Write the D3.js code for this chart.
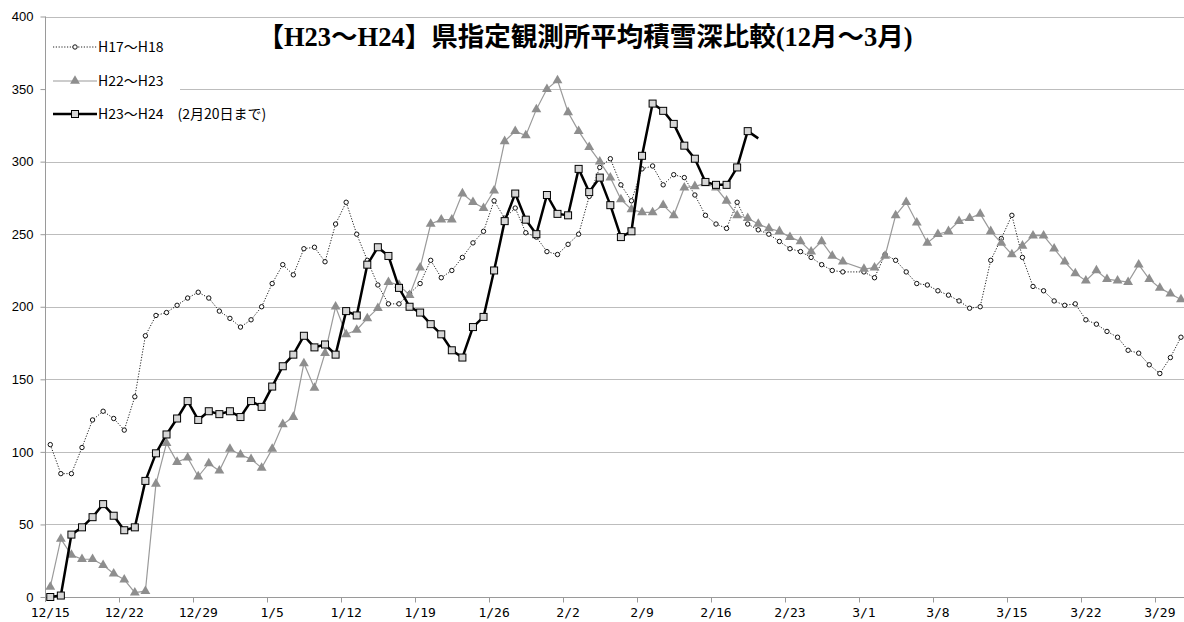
<!DOCTYPE html>
<html><head><meta charset="utf-8">
<script src="https://cdn.jsdelivr.net/npm/d3@7"></script>
<style>body{margin:0;background:#fff} svg{display:block}</style>
</head><body><svg id="c" width="1184" height="622"></svg>
<script>
// ---- data ----
const titleText = "【H23～H24】県指定観測所平均積雪深比較(12月～3月)";
const categories = d3.timeDay.range(new Date(2011, 11, 15), new Date(2012, 3, 1)).map(d3.timeFormat("%-m/%-d"));
const tickLabels = ["12/15","12/22","12/29","1/5","1/12","1/19","1/26","2/2","2/9","2/16","2/23","3/1","3/8","3/15","3/22","3/29"];
const yTicks = [0,50,100,150,200,250,300,350,400];
const seriesNames = ["H17～H18","H22～H23","H23～H24　(2月20日まで)"];
const h17h18 = [105,85,85,103,122,128,123,115,138,180, 194,196,201,206,210,206,197,192,186,191,
  200,216,229,222,240,241,231,257,272,250, 232,215,202,202,209,216,232,220,225,234,
  244,252,273,261,268,251,248,238,236,243, 250,276,296,302,284,273,295,297,284,291,
  289,277,263,257,254,272,257,253,250,245, 240,238,234,229,225,224,null,224,220,236,
  232,224,216,215,211,208,204,199,200,232, 247,263,234,214,211,204,201,202,191,188,
  183,179,170,168,160,154,165,179];
const h22h23 = [7,40,29,26,26,22,16,12,3,4, 78,106,93,96,83,92,87,102,98,95,
  89,102,119,124,161,144,168,200,181,184, 192,199,217,215,208,227,257,260,260,278,
  272,268,280,314,321,318,336,350,356,334, 321,310,300,289,274,267,265,265,270,263,
  282,283,285,282,273,263,261,257,254,252, 248,245,238,245,235,231,null,226,227,235,
  263,272,258,244,250,252,259,261,264,252, 244,236,242,249,249,240,231,223,218,225,
  219,218,217,229,219,213,209,205];
const h23h24 = [0,1,43,48,55,64,56,46,48,80, 99,112,123,135,122,128,126,128,124,135,
  131,145,159,167,180,172,174,167,197,194, 229,241,235,213,200,196,188,181,170,165,
  186,193,225,259,278,260,250,277,264,263, 295,279,289,270,248,252,304,340,335,326,
  311,302,286,284,284,296,321,316];
const h23h24MarkerCount = 67; // last value (2/20) drawn without marker

(function draw() {
  const svg = d3.select("#c");
  const plotLeft = 45, bandW = 10.567, plotBottom = 597, plotTop = 16.5;
  const x = d3.scaleBand().domain(categories).range([plotLeft, plotLeft + categories.length * bandW]).padding(0);
  const cx = c => x(c) + x.bandwidth() / 2;
  const y = d3.scaleLinear().domain([0, 400]).range([plotBottom, plotTop]);

  // gridlines
  svg.append("g").selectAll("line").data(yTicks.filter(v => v > 0)).join("line")
    .attr("x1", plotLeft).attr("x2", 1184).attr("y1", d => Math.round(y(d)) + 0.5).attr("y2", d => Math.round(y(d)) + 0.5)
    .attr("stroke", "#bdbdbd").attr("stroke-width", 1);

  // y axis
  const yAxis = svg.append("g").attr("transform", `translate(${plotLeft + 0.5},0)`)
    .call(d3.axisLeft(y).tickValues(yTicks).tickSize(5).tickPadding(7));
  yAxis.select(".domain").attr("stroke", "#9a9a9a").attr("d", `M0,${y(400)}V${plotBottom + 5}`);
  yAxis.selectAll(".tick line").attr("stroke", "#9a9a9a");
  yAxis.selectAll("text").attr("font-family", "'Liberation Sans', Arial, sans-serif").attr("font-size", 13).attr("fill", "#000");

  // x axis
  const xAxis = svg.append("g").attr("transform", `translate(0,${plotBottom + 0.5})`)
    .call(d3.axisBottom(x).tickValues(tickLabels).tickSize(0).tickPadding(10));
  xAxis.select(".domain").attr("stroke", "#9a9a9a").attr("d", `M${plotLeft},0H1184`);
  xAxis.selectAll("text").attr("font-family", "'DejaVu Sans Mono', monospace").attr("font-size", 13).attr("fill", "#000");
  const tickBoundaries = tickLabels.slice(1).map(l => Math.round(x(l)) + 0.5);
  xAxis.append("g").selectAll("line").data(tickBoundaries).join("line")
    .attr("x1", d => d).attr("x2", d => d).attr("y1", 0).attr("y2", 5)
    .attr("stroke", "#9a9a9a");

  const pts = arr => arr.map((v, i) => ({c: categories[i], v})).filter(d => d.v != null);
  const line = d3.line().x(d => cx(d.c)).y(d => y(d.v));

  // H17-H18
  const p1 = pts(h17h18);
  svg.append("path").datum(p1).attr("d", line).attr("fill", "none")
    .attr("stroke", "#222").attr("stroke-width", 1).attr("stroke-dasharray", "1.2,1.6");
  svg.append("g").selectAll("circle").data(p1).join("circle")
    .attr("cx", d => cx(d.c)).attr("cy", d => y(d.v)).attr("r", 2.2)
    .attr("fill", "#fff").attr("stroke", "#111").attr("stroke-width", 1);

  // H22-H23
  const p2 = pts(h22h23);
  const tri = d3.symbol().type(d3.symbolTriangle).size(42);
  svg.append("path").datum(p2).attr("d", line).attr("fill", "none")
    .attr("stroke", "#9a9a9a").attr("stroke-width", 1.2);
  svg.append("g").selectAll("path").data(p2).join("path")
    .attr("d", tri).attr("transform", d => `translate(${cx(d.c)},${y(d.v)})`)
    .attr("fill", "#8e8e8e");

  // H23-H24
  const p3 = pts(h23h24);
  svg.append("path").datum(p3).attr("d", line).attr("fill", "none")
    .attr("stroke", "#000").attr("stroke-width", 2.5).attr("stroke-linejoin", "round");
  svg.append("g").selectAll("rect").data(p3.slice(0, h23h24MarkerCount)).join("rect")
    .attr("x", d => cx(d.c) - 3.5).attr("y", d => y(d.v) - 3.5).attr("width", 7).attr("height", 7)
    .attr("fill", "#d6d6d6").attr("stroke", "#000").attr("stroke-width", 1);

  // legend
  const lg = svg.append("g");
  lg.append("rect").attr("x", 46).attr("y", 20).attr("width", 134).attr("height", 112).attr("fill", "#fff");
  const rows = [47, 81, 114];
  const lx1 = 53, lx2 = 97, lm = 75;
  lg.append("line").attr("x1", lx1).attr("x2", lx2).attr("y1", rows[0]).attr("y2", rows[0])
    .attr("stroke", "#222").attr("stroke-width", 1).attr("stroke-dasharray", "1.2,1.6");
  lg.append("circle").attr("cx", lm).attr("cy", rows[0]).attr("r", 2.2).attr("fill", "#fff").attr("stroke", "#111");
  lg.append("line").attr("x1", lx1).attr("x2", lx2).attr("y1", rows[1]).attr("y2", rows[1])
    .attr("stroke", "#9a9a9a").attr("stroke-width", 1.2);
  lg.append("path").attr("d", tri).attr("transform", `translate(${lm},${rows[1]})`).attr("fill", "#8e8e8e");
  lg.append("line").attr("x1", lx1).attr("x2", lx2).attr("y1", rows[2]).attr("y2", rows[2])
    .attr("stroke", "#000").attr("stroke-width", 2.5);
  lg.append("rect").attr("x", lm - 3.5).attr("y", rows[2] - 3.5).attr("width", 7).attr("height", 7)
    .attr("fill", "#d6d6d6").attr("stroke", "#000");
  lg.selectAll("text").data(seriesNames).join("text")
    .attr("x", 98).attr("y", (d, i) => rows[i]).attr("dy", "0.35em")
    .attr("font-family", "'Noto Sans CJK JP', sans-serif").attr("font-size", 14).attr("fill", "#000")
    .text(d => d);

  // title
  svg.append("text").attr("x", 585).attr("y", 46).attr("text-anchor", "middle")
    .attr("font-family", "'Liberation Serif', 'Noto Sans CJK JP', serif").attr("font-weight", "bold")
    .attr("font-size", 26.5).attr("fill", "#000").text(titleText);
})();
</script></body></html>
